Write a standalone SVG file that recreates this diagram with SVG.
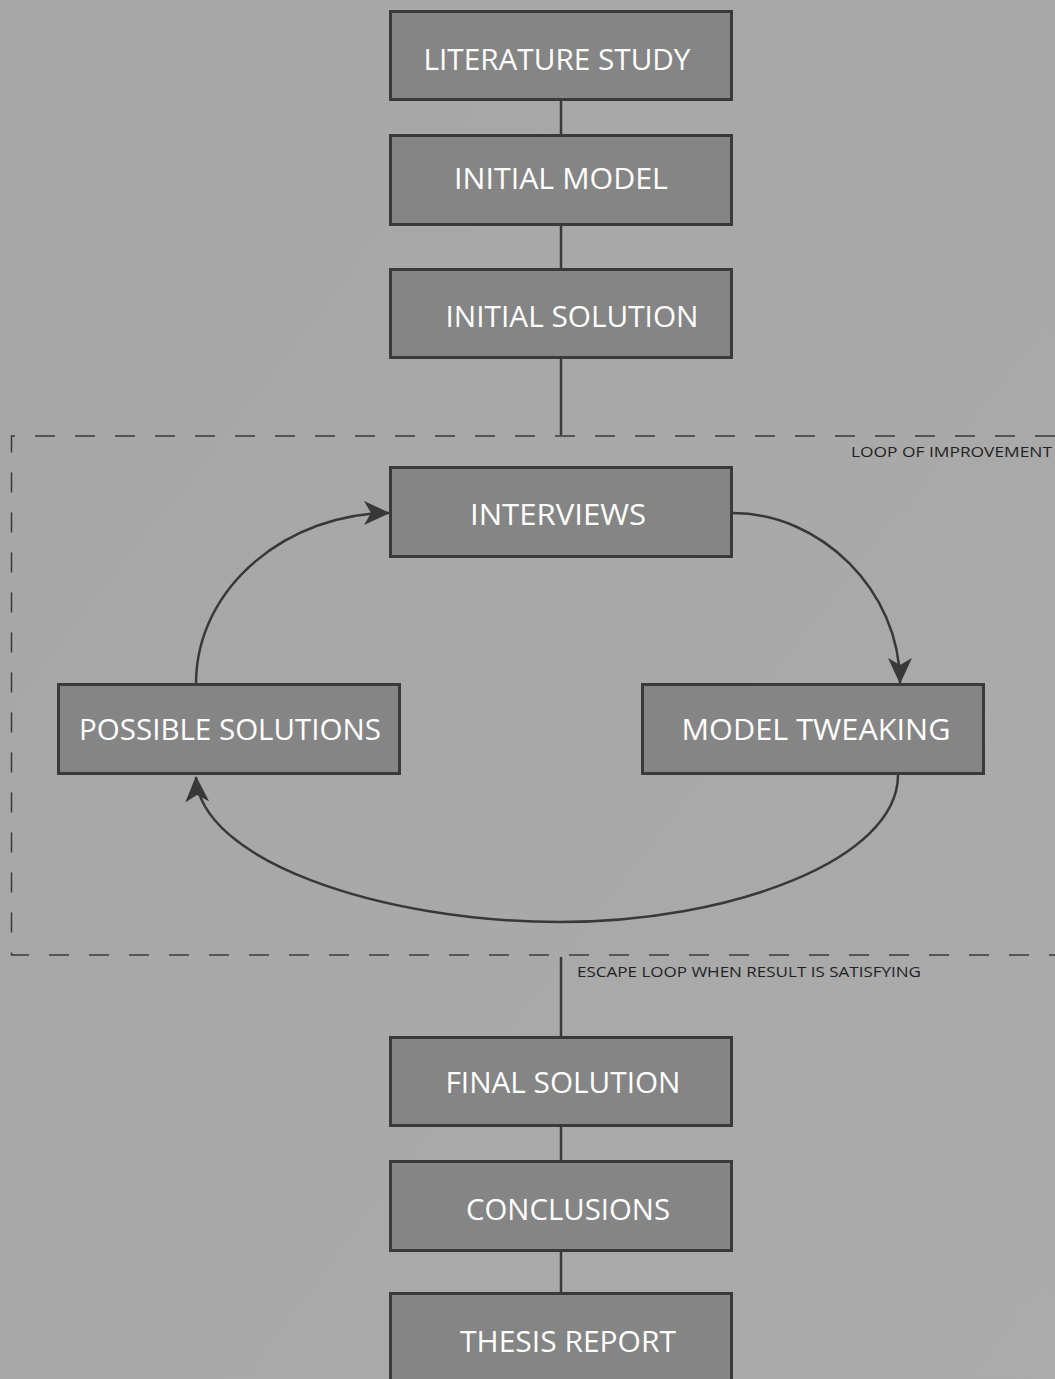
<svg xmlns="http://www.w3.org/2000/svg" width="1055" height="1379" viewBox="0 0 1055 1379">
<defs>
<linearGradient id="bg" x1="0" y1="0" x2="1" y2="1">
<stop offset="0" stop-color="#a6a6a6"/>
<stop offset="1" stop-color="#ababab"/>
</linearGradient>
<marker id="arr" viewBox="0 0 26 24" refX="25" refY="12" markerWidth="26" markerHeight="24" markerUnits="userSpaceOnUse" orient="auto">
<path d="M0,0 L26,12 L0,24 L7,12 Z" fill="#383838"/>
</marker>
<style>
.box{fill:#858585;stroke:#3a3a3a;stroke-width:3}
.lbl{font-family:"Open Sans","Liberation Sans",sans-serif;font-size:30px;fill:#ffffff;text-anchor:middle}
.note{font-family:"Open Sans","Liberation Sans",sans-serif;font-size:15px;fill:#222222}
.ln{stroke:#3a3a3a;stroke-width:2.5;fill:none}
.arc{stroke:#383838;stroke-width:2.5;fill:none;marker-end:url(#arr)}
.dash{stroke:#3a3a3a;stroke-width:1.5;fill:none;stroke-dasharray:20 20}
</style>
</defs>
<rect width="1055" height="1379" fill="url(#bg)"/>
<g id="loop-frame">
<path class="dash" d="M1055,436 L11.5,436 L11.5,955 L1055,955"/>
<text class="note" x="851" y="457" textLength="201" lengthAdjust="spacingAndGlyphs">LOOP OF IMPROVEMENT</text>
<text class="note" x="577" y="977" textLength="344" lengthAdjust="spacingAndGlyphs">ESCAPE LOOP WHEN RESULT IS SATISFYING</text>
</g>
<g id="connectors">
<line class="ln" x1="561" y1="100" x2="561" y2="135"/>
<line class="ln" x1="561" y1="225" x2="561" y2="269"/>
<line class="ln" x1="561" y1="358" x2="561" y2="435"/>
<line class="ln" x1="561" y1="957" x2="561" y2="1037"/>
<line class="ln" x1="561" y1="1126" x2="561" y2="1161"/>
<line class="ln" x1="561" y1="1251" x2="561" y2="1293"/>
<path class="arc" d="M196,684 C196,585 290,513 389,513"/>
<path class="arc" d="M733,513 C820,513 900,590 900,683"/>
<path class="arc" d="M898,775 C898,860 730,922 560,922 C380,922 200,860 196,777"/>
</g>
<g id="n-literature"><rect class="box" x="390.5" y="11.5" width="341" height="88"/><text class="lbl" x="557" y="70" textLength="267" lengthAdjust="spacingAndGlyphs">LITERATURE STUDY</text></g>
<g id="n-initial-model"><rect class="box" x="390.5" y="135.5" width="341" height="89"/><text class="lbl" x="561" y="189" textLength="214" lengthAdjust="spacingAndGlyphs">INITIAL MODEL</text></g>
<g id="n-initial-solution"><rect class="box" x="390.5" y="269.5" width="341" height="88"/><text class="lbl" x="572" y="327" textLength="253" lengthAdjust="spacingAndGlyphs">INITIAL SOLUTION</text></g>
<g id="n-interviews"><rect class="box" x="390.5" y="467.5" width="341" height="89"/><text class="lbl" x="558" y="525" textLength="176" lengthAdjust="spacingAndGlyphs">INTERVIEWS</text></g>
<g id="n-possible"><rect class="box" x="58.5" y="684.5" width="341" height="89"/><text class="lbl" x="230" y="740" textLength="302" lengthAdjust="spacingAndGlyphs">POSSIBLE SOLUTIONS</text></g>
<g id="n-tweaking"><rect class="box" x="642.5" y="684.5" width="341" height="89"/><text class="lbl" x="816" y="740" textLength="269" lengthAdjust="spacingAndGlyphs">MODEL TWEAKING</text></g>
<g id="n-final"><rect class="box" x="390.5" y="1037.5" width="341" height="88"/><text class="lbl" x="563" y="1093" textLength="235" lengthAdjust="spacingAndGlyphs">FINAL SOLUTION</text></g>
<g id="n-conclusions"><rect class="box" x="390.5" y="1161.5" width="341" height="89"/><text class="lbl" x="568" y="1220" textLength="204" lengthAdjust="spacingAndGlyphs">CONCLUSIONS</text></g>
<g id="n-thesis"><rect class="box" x="390.5" y="1293.5" width="341" height="95"/><text class="lbl" x="568" y="1352" textLength="216" lengthAdjust="spacingAndGlyphs">THESIS REPORT</text></g>
</svg>
